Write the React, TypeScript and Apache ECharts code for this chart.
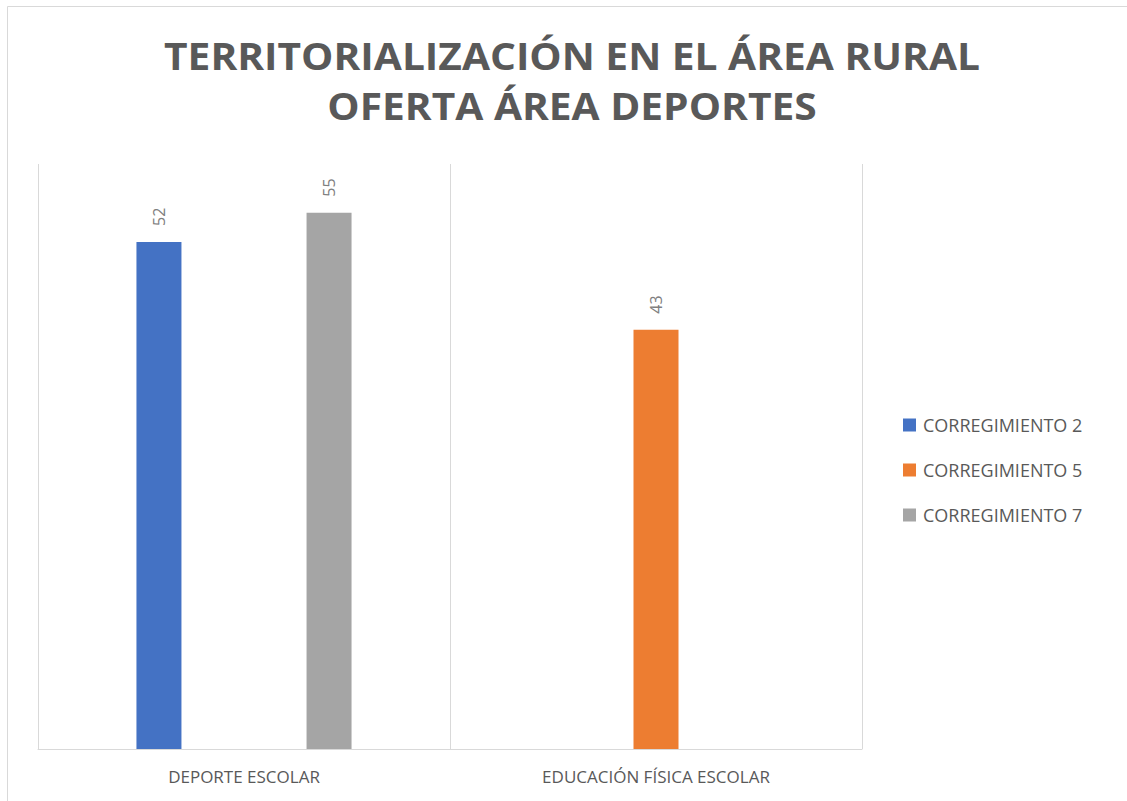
import React, { useEffect, useRef } from "react";
import * as echarts from "echarts";

const categories = ["DEPORTE ESCOLAR", "EDUCACIÓN FÍSICA ESCOLAR"];
const seriesNames = ["CORREGIMIENTO 2", "CORREGIMIENTO 5", "CORREGIMIENTO 7"];
const corregimiento2 = [52, null];
const corregimiento5 = [null, 43];
const corregimiento7 = [55, null];
const seriesColors = ["#4472C4", "#ED7D31", "#A5A5A5"];
const titleLines = ["TERRITORIALIZACIÓN EN EL ÁREA RURAL", "OFERTA ÁREA DEPORTES"];

export default function App() {
  const ref = useRef<HTMLDivElement>(null);
  useEffect(() => {
    if (!ref.current) return;
    const chart = echarts.init(ref.current, null, { renderer: "svg" });
    const values = [corregimiento2, corregimiento5, corregimiento7];
    const font = "Open Sans";
    chart.setOption({
      animation: false,
      backgroundColor: "#ffffff",
      legend: {
        orient: "vertical",
        left: 903,
        top: 416,
        padding: 0,
        itemWidth: 13,
        itemHeight: 13,
        itemGap: 27,
        icon: "rect",
        data: seriesNames,
        textStyle: { fontFamily: font, fontSize: 18, color: "#595959", padding: [0, 0, 0, 2] },
      },
      grid: { left: 38, right: 265, top: 164, bottom: 52, containLabel: false },
      xAxis: {
        type: "category",
        data: categories,
        boundaryGap: true,
        axisLine: { lineStyle: { color: "#d9d9d9", width: 1 } },
        axisTick: { show: false },
        splitLine: { show: true, lineStyle: { color: "#d9d9d9", width: 1 } },
        axisLabel: { fontFamily: font, fontSize: 17, color: "#595959", margin: 19 },
      },
      yAxis: {
        type: "value",
        min: 0,
        max: 60,
        show: false,
        splitLine: { show: false },
      },
      graphic: [
        {
          type: "rect",
          shape: { x: 7.5, y: 6.5, width: 1200, height: 900 },
          style: { fill: "none", stroke: "#d9d9d9", lineWidth: 1 },
          silent: true,
          z: 0,
        },
        ...titleLines.map((t, i) => ({
          type: "text",
          x: 572,
          y: 55 + i * 50,
          scaleX: 1.1,
          style: {
            text: t,
            fontFamily: font,
            fontSize: 37,
            fontWeight: "bold",
            fill: "#595959",
            textAlign: "center",
            textVerticalAlign: "middle",
          },
          silent: true,
        })),
      ],
      series: seriesNames.map((name, i) => ({
        name,
        type: "bar",
        data: values[i],
        barWidth: 45,
        barGap: "89%",
        itemStyle: { color: seriesColors[i] },
        label: {
          show: true,
          position: "top",
          rotate: 90,
          align: "left",
          verticalAlign: "middle",
          distance: 16,
          fontFamily: font,
          fontSize: 16,
          color: "#7f7f7f",
        },
      })),
    });
    return () => chart.dispose();
  }, []);
  return (
    <div
      ref={ref}
      style={{ position: "fixed", left: 0, top: 0, width: 1127, height: 801 }}
    />
  );
}
